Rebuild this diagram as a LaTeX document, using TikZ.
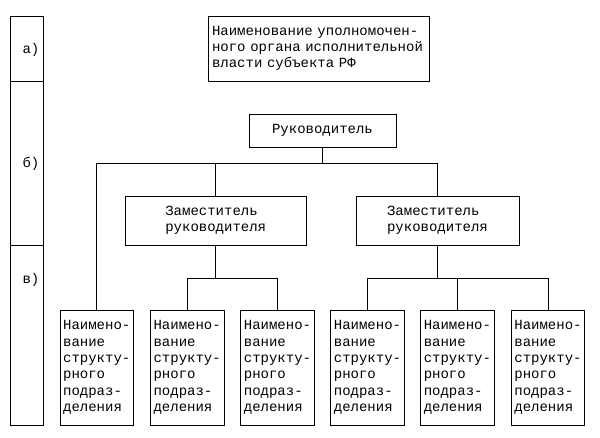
\documentclass[tikz,border=0pt]{standalone}
\usepackage{fontspec}
\setmonofont{Liberation Mono}
\usetikzlibrary{positioning}

\begin{document}
\begin{tikzpicture} [
			x=1pt, y=-1pt,
			box/.style={rectangle, draw, line width=0.8pt, inner sep=0pt, align=left,
				font=\ttfamily\fontsize{14}{16.3}\selectfont},
			unit/.style={box, minimum width=73.5pt, minimum height=115pt},
			cell/.style={rectangle, draw, line width=0.8pt, minimum width=32.5pt, inner sep=0pt},
			tag/.style={font=\ttfamily\fontsize{14}{16}\selectfont},
			link/.style={line width=0.8pt}
		]
		\useasboundingbox (0,0) rectangle (600,438);
		% levels on the left
		\node at (27,48.5)  [cell, minimum height=65pt]  (lvla) {};
		\node at (27,163.2) [cell, minimum height=164.5pt] (lvlb) {};
		\node at (27,335.2) [cell, minimum height=179.5pt] (lvlc) {};
		\node at (31,50)  [tag] (taga) {а)};
		\node at (31,164) [tag] (tagb) {б)};
		\node at (31,280) [tag] (tagc) {в)};
		
		\node at (318.5,48.5) [box, minimum width=221pt, minimum height=65pt, text width=213pt] (organ)
			{Наименование уполномочен-\\ного органа исполнительной\\власти субъекта РФ};
		\node at (322.5,130.5) [box, minimum width=147pt, minimum height=33pt] (head) {Руководитель};
		\node at (215.75,220.5) [box, minimum width=180.5pt, minimum height=49pt] (dep1) {Заместитель\\руководителя};
		\node at (437.5,220.5)  [box, minimum width=163pt, minimum height=49pt] (dep2) {Заместитель\\руководителя};
		
		\foreach \x [count=\i] in {96.75, 187.2, 277.5, 367.5, 457.4, 548} {
			\node at (\x,367.5) [unit] (unit\i) {Наимено-\\вание\\структу-\\рного\\подраз-\\деления};
		}
		
		\coordinate (bus) at (0,163);
		\coordinate (subbus) at (0,278);
		\draw [link] (head) -- (head |- bus);
		\draw [link] (unit1.north) |- (dep2.north |- bus) -- (dep2.north);
		\draw [link] (dep1.north) -- (dep1.north |- bus);
		\draw [link] (dep1.south) -- (dep1.south |- subbus);
		\draw [link] (unit2.north) |- (unit3.north |- subbus) -- (unit3.north);
		\draw [link] (dep2.south) -- (dep2.south |- subbus);
		\draw [link] (unit4.north) |- (unit6.north |- subbus) -- (unit6.north);
		\draw [link] (unit5.north) -- (unit5.north |- subbus);
	\end{tikzpicture}
\end{document}
